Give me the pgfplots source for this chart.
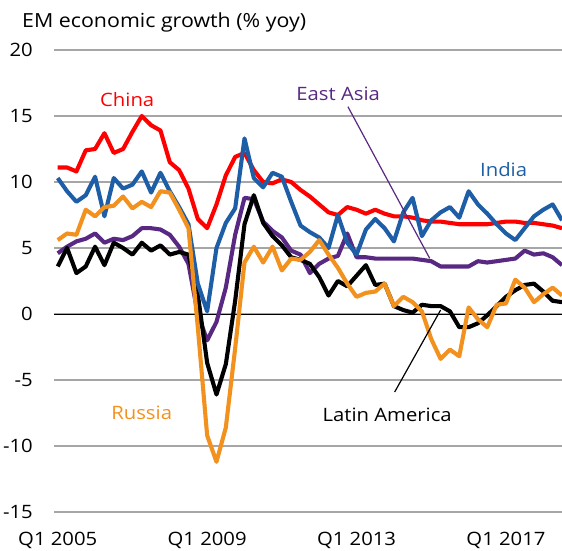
\documentclass[border=0pt]{standalone}
\usepackage{pgfplots}
\pgfplotsset{compat=1.18}
\usepackage{pgfplotstable}
\usepackage{fontspec}
\setmainfont{Open Sans}[FakeStretch=1.1]
\definecolor{cChina}{RGB}{255,0,0}
\definecolor{cIndia}{RGB}{30,94,166}
\definecolor{cRussia}{RGB}{242,145,29}
\definecolor{cEast}{RGB}{88,40,130}
\definecolor{cGrid}{RGB}{166,166,166}

\pgfplotstableread{
x china india russia latam eastasia
0 11.1 10.3 5.6 3.6 4.6
1 11.1 9.3 6.1 5.0 5.1
2 10.8 8.5 6.0 3.1 5.5
3 12.4 9.0 7.9 3.6 5.7
4 12.5 10.4 7.4 5.1 6.1
5 13.7 7.4 8.1 3.7 5.4
6 12.2 10.3 8.2 5.4 5.7
7 12.5 9.5 8.9 5.0 5.6
8 13.8 9.8 8.0 4.5 5.9
9 15.0 10.8 8.5 5.4 6.5
10 14.3 9.2 8.1 4.8 6.5
11 13.9 10.7 9.3 5.2 6.4
12 11.5 9.3 9.2 4.5 6.0
13 10.9 8.1 7.9 4.7 5.1
14 9.5 6.8 6.5 4.5 3.8
15 7.2 2.3 -1.0 1.5 0.0
16 6.5 0.2 -9.2 -3.7 -2.0
17 8.3 5.0 -11.2 -6.1 -0.6
18 10.5 6.9 -8.6 -3.8 2.0
19 11.9 8.0 -2.6 1.0 6.0
20 12.2 13.3 3.9 6.8 8.8
21 10.9 10.3 5.1 9.0 8.7
22 10.0 9.6 3.9 6.9 7.0
23 9.9 10.7 5.1 5.9 6.3
24 10.2 10.4 3.3 5.2 5.8
25 10.0 8.5 4.2 4.3 4.8
26 9.4 6.7 4.1 4.1 4.5
27 8.9 6.2 4.7 3.8 3.1
28 8.3 5.8 5.6 2.8 3.8
29 7.7 5.0 4.5 1.4 4.2
30 7.5 7.5 3.5 2.5 4.4
31 8.1 5.4 2.3 2.1 6.1
32 7.9 4.5 1.3 2.9 4.3
33 7.6 6.4 1.6 3.7 4.3
34 7.9 7.2 1.7 2.2 4.2
35 7.6 6.5 2.3 2.3 4.2
36 7.4 5.5 0.6 0.6 4.2
37 7.4 7.7 1.3 0.3 4.2
38 7.3 8.8 0.9 0.1 4.2
39 7.1 5.9 0.2 0.7 4.1
40 7.0 7.1 -1.9 0.6 4.0
41 7.0 7.7 -3.4 0.6 3.6
42 6.9 8.1 -2.7 0.2 3.6
43 6.8 7.3 -3.2 -1.0 3.6
44 6.8 9.3 0.5 -1.0 3.6
45 6.8 8.3 -0.4 -0.7 4.0
46 6.8 7.6 -1.0 -0.1 3.9
47 6.9 6.8 0.7 0.6 4.0
48 7.0 6.1 0.8 1.3 4.1
49 7.0 5.6 2.6 1.8 4.2
50 6.9 6.5 2.0 2.2 4.8
51 6.9 7.4 0.9 2.3 4.5
52 6.8 7.9 1.5 1.7 4.6
53 6.7 8.3 2.0 1.0 4.3
54 6.5 7.1 1.4 0.9 3.7
}\growth

\begin{document}
\begin{tikzpicture}[font=\fontsize{18.5}{22}\selectfont]
\path[use as bounding box] (0,0) rectangle (562bp,551bp);
\begin{axis}[
  at={(54bp,39bp)}, anchor=south west,
  scale only axis, width=508bp, height=462bp,
  xmin=-0.4, xmax=54, ymin=-15, ymax=20,
  xtick={0,16,32,48},
  xticklabels={Q1 2005,Q1 2009,Q1 2013,Q1 2017},
  ytick={-15,-10,-5,0,5,10,15,20},
  yticklabels={-15,-10,-5,0,5,10,15,20},
  ymajorgrids,
  grid style={cGrid, line width=1.5bp},
  axis line style={draw=none},
  major tick length=0pt,
  tick label style={font=\fontsize{18.5}{22}\selectfont, inner sep=0pt},
  yticklabel style={anchor=east, xshift=-21bp},
  xticklabel style={anchor=north, yshift=-20bp},
  every axis plot/.append style={line width=4.1bp, line join=round, mark=none},
]
\addplot[black, line width=0.9bp, forget plot] coordinates {(-0.4,0) (54,0)};
\addplot[cChina] table[x=x, y=china] {\growth};
\addplot[cEast] table[x=x, y=eastasia] {\growth};
\addplot[black] table[x=x, y=latam] {\growth};
\addplot[cIndia] table[x=x, y=india] {\growth};
\addplot[cRussia] table[x=x, y=russia] {\growth};

\draw[cEast, line width=1.2bp] (axis cs:31.08,15.7) -- (axis cs:39.83,4.22);
\draw[black, line width=1.2bp] (axis cs:36.08,-5.91) -- (axis cs:41.0,0.30);

\node[text=cChina, anchor=base, inner sep=0pt] at (axis cs:7.44,15.7) {China};
\node[text=cEast, anchor=base, inner sep=0pt] at (axis cs:30.03,16.2) {East Asia};
\node[text=cIndia, anchor=base, inner sep=0pt] at (axis cs:47.75,10.38) {India};
\node[text=cRussia, anchor=base, inner sep=0pt] at (axis cs:8.99,-8.03) {Russia};
\node[text=black, anchor=base, inner sep=0pt] at (axis cs:35.28,-8.18) {Latin America};
\end{axis}
\node[anchor=base west, inner sep=0pt, font=\fontsize{19.5}{23}\selectfont] at (22bp,523bp) {EM economic growth (\% yoy)};
\end{tikzpicture}
\end{document}
